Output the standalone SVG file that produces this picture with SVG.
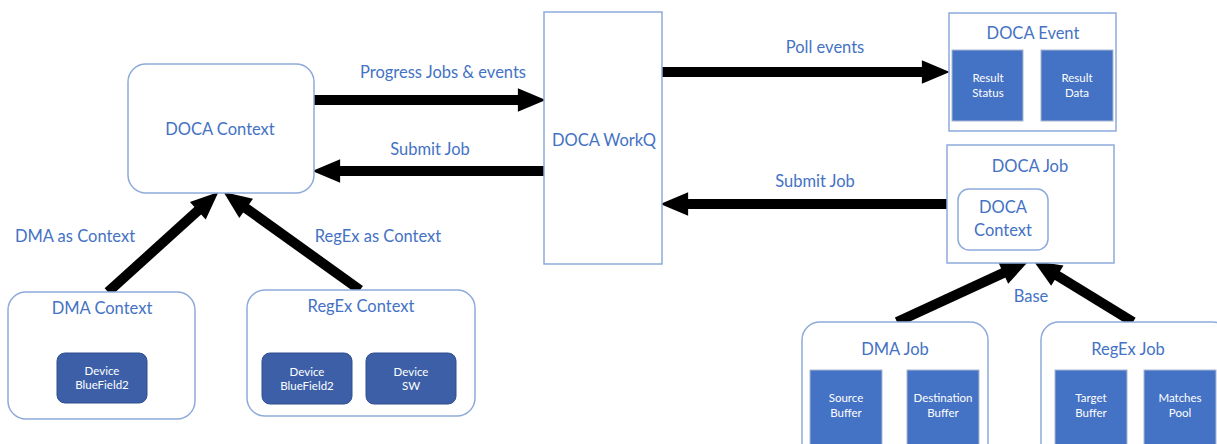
<svg xmlns="http://www.w3.org/2000/svg" width="1217" height="444" viewBox="0 0 1217 444">
<style>
.box{fill:#fff;stroke:#8eaadb;stroke-width:1.5}
.t{font-family:Lato,"Liberation Sans",sans-serif;font-size:16.5px;fill:#4472c4;text-anchor:middle}
.sq{fill:#4472c4;stroke:#aab8d0;stroke-width:1}
.dev{fill:#3c5fa8;stroke:#2f4f8f;stroke-width:1}
.s{font-family:Lato,"Liberation Sans",sans-serif;font-size:11.5px;fill:#fff;text-anchor:middle}
.a{stroke:#000;stroke-width:10;fill:none;marker-end:url(#ah)}
</style>
<defs>
<marker id="ah" markerUnits="userSpaceOnUse" markerWidth="30" markerHeight="30" viewBox="-3 -12 28 24" refX="0" refY="0" orient="auto">
<path d="M-2,-11 L24,0 L-2,11 z" fill="#000"/>
</marker>
</defs>
<rect width="1217" height="444" fill="#fff"/>

<g id="connectors">
<line class="a" x1="314" y1="100" x2="520" y2="100"/>
<line class="a" x1="544" y1="171" x2="338" y2="171"/>
<line class="a" x1="662" y1="72" x2="924" y2="72"/>
<line class="a" x1="947" y1="204" x2="686" y2="204"/>
<line class="a" x1="108" y1="292" x2="199.4" y2="209.3"/>
<line class="a" x1="360" y1="290" x2="244.4" y2="207.1"/>
<line class="a" x1="897" y1="322" x2="1005.2" y2="272.1"/>
<line class="a" x1="1133" y1="322" x2="1055.5" y2="274.5"/>
<text class="t" x="443" y="78">Progress Jobs &amp; events</text>
<text class="t" x="430" y="155">Submit Job</text>
<text class="t" x="825" y="53">Poll events</text>
<text class="t" x="815" y="187">Submit Job</text>
<text class="t" x="75" y="242">DMA as Context</text>
<text class="t" x="378" y="242">RegEx as Context</text>
<text class="t" x="1031" y="302">Base</text>
</g>

<g id="doca-context">
<rect class="box" x="128" y="64" width="186" height="129" rx="18"/>
<text class="t" x="220" y="135">DOCA Context</text>
</g>

<g id="doca-workq">
<rect class="box" x="544" y="12" width="118" height="252"/>
<text class="t" x="604" y="146">DOCA WorkQ</text>
</g>

<g id="doca-event">
<rect class="box" x="949" y="13" width="167" height="118"/>
<text class="t" x="1033" y="39">DOCA Event</text>
<rect class="sq" x="952" y="50" width="71" height="71"/>
<text class="s" x="988" y="82">Result</text>
<text class="s" x="988" y="97">Status</text>
<rect class="sq" x="1041" y="50" width="72" height="71"/>
<text class="s" x="1077" y="82">Result</text>
<text class="s" x="1077" y="97">Data</text>
</g>

<g id="doca-job">
<rect class="box" x="947" y="145" width="167" height="118"/>
<text class="t" x="1030" y="172">DOCA Job</text>
<rect class="box" x="958" y="189" width="90" height="61" rx="11"/>
<text class="t" x="1003" y="213">DOCA</text>
<text class="t" x="1003" y="236">Context</text>
</g>

<g id="dma-context">
<rect class="box" x="8" y="292" width="187" height="127" rx="18"/>
<text class="t" x="102" y="314">DMA Context</text>
<rect class="dev" x="57" y="353" width="90" height="50" rx="8"/>
<text class="s" x="102" y="375">Device</text>
<text class="s" x="102" y="389">BlueField2</text>
</g>

<g id="regex-context">
<rect class="box" x="247" y="290" width="228" height="126" rx="18"/>
<text class="t" x="361" y="312">RegEx Context</text>
<rect class="dev" x="262" y="353" width="90" height="51" rx="8"/>
<text class="s" x="307" y="376">Device</text>
<text class="s" x="307" y="390">BlueField2</text>
<rect class="dev" x="366" y="353" width="90" height="51" rx="8"/>
<text class="s" x="411" y="376">Device</text>
<text class="s" x="411" y="390">SW</text>
</g>

<g id="dma-job">
<rect class="box" x="802" y="322" width="186" height="140" rx="18"/>
<text class="t" x="895" y="355">DMA Job</text>
<rect class="sq" x="810" y="370" width="72" height="80"/>
<text class="s" x="846" y="402">Source</text>
<text class="s" x="846" y="417">Buffer</text>
<rect class="sq" x="907" y="370" width="72" height="80"/>
<text class="s" x="943" y="402">Destination</text>
<text class="s" x="943" y="417">Buffer</text>
</g>

<g id="regex-job">
<rect class="box" x="1041" y="322" width="190" height="140" rx="18"/>
<text class="t" x="1128" y="355">RegEx Job</text>
<rect class="sq" x="1055" y="370" width="72" height="80"/>
<text class="s" x="1091" y="402">Target</text>
<text class="s" x="1091" y="417">Buffer</text>
<rect class="sq" x="1144" y="370" width="72" height="80"/>
<text class="s" x="1180" y="402">Matches</text>
<text class="s" x="1180" y="417">Pool</text>
</g>
</svg>
